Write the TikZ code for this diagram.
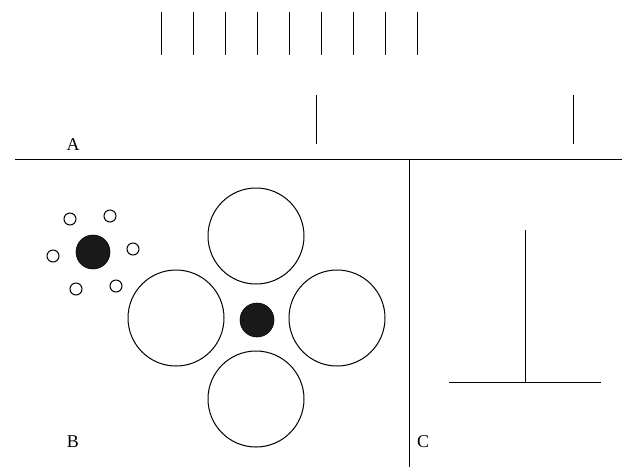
\documentclass[tikz,border=0pt]{standalone}
\usepackage{fontspec}
\setmainfont{Liberation Serif}
\usetikzlibrary{positioning}
\tikzset{
  ln/.style={draw=black, line width=1pt},
  lbl/.style={font=\fontsize{18}{18}\selectfont, inner sep=0pt},
  big/.style={circle, draw=black, line width=1pt, minimum size=96pt, inner sep=0pt},
  dot/.style={circle, fill=black!90, draw=black, line width=0.6pt, minimum size=34pt, inner sep=0pt},
  ring/.style={circle, draw=black, line width=1pt, minimum size=12pt, inner sep=0pt},
}

\begin{document}
\begin{tikzpicture}[x=1pt, y=-1pt]
\useasboundingbox (0,0) rectangle (623,467);

%% =====================================================================
%% top strip: row of ticks, two single ticks, baseline
%% =====================================================================
\foreach \i in {0,...,8}
  \draw[ln] ({161+32.1*\i},12) -- ({161+32.1*\i},55);
\draw[ln] (316,95) -- (316,144);
\draw[ln] (573,95) -- (573,144);
\draw[ln] (15,159) -- (622,159);
\draw[ln] (409,159) -- (409,467);

\node[lbl] (la) at (73,145) {A};
\node[lbl] (lb) at (73,442) {B};
\node[lbl] (lc) at (423,442) {C};

%% =====================================================================
%% panel B: small cluster and four big circles round a dot
%% =====================================================================
\node[dot] (cd) at (93,252) {};
\node[ring] (r1) at (70,219) {};
\node[ring] (r2) at (110,216) {};
\node[ring] (r3) at (133,249) {};
\node[ring] (r4) at (116,286) {};
\node[ring] (r5) at (76,289) {};
\node[ring] (r6) at (53,256) {};

\node[big] (bt) at (256,236) {};
\node[big] (bl) at (176,318) {};
\node[big] (br) at (337,318) {};
\node[big] (bb) at (256,399) {};
\node[dot] (md) at (257,320) {};

%% =====================================================================
%% panel C: inverted T
%% =====================================================================
\draw[ln] (525,230) -- (525,382);
\draw[ln] (449,382) -- (601,382);

\end{tikzpicture}
\end{document}
